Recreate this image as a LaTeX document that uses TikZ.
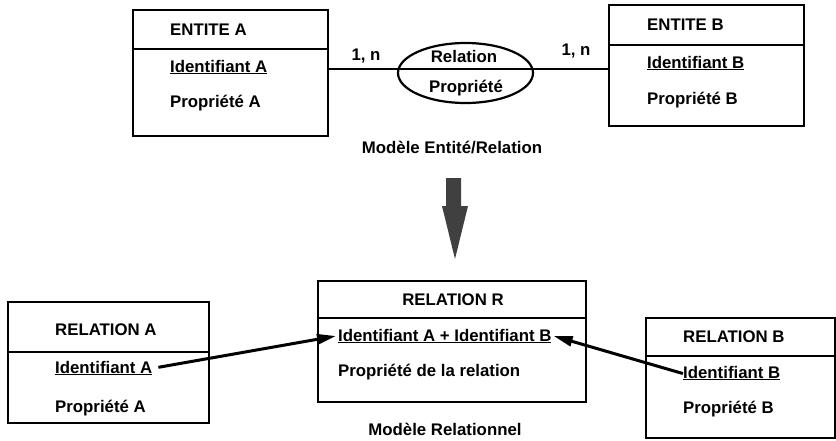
\documentclass[tikz,border=0pt]{standalone}
\usepackage{fontspec}
\setmainfont{Liberation Sans}
\usetikzlibrary{arrows.meta,shapes.geometric}

\begin{document}
\begin{tikzpicture}[x=1pt,y=-1pt,
  every node/.style={font=\bfseries\fontsize{16.8}{20}\selectfont},
  box/.style={draw,line width=2.5pt,inner sep=0pt},
  txt/.style={anchor=base west,inner sep=2pt},
  lbl/.style={anchor=base,inner sep=2pt},
  link/.style={line width=2.5pt},
  ref/.style={line width=3pt,-{Triangle[length=19pt,width=10pt]}}]
  \useasboundingbox (0,0) rectangle (836,440);

  % entite/relation model
  \node[box,minimum width=195pt,minimum height=126pt] (ea) at (230.5,73) {};
  \node[box,minimum width=195pt,minimum height=121pt] (eb) at (706.5,65.5) {};
  \node[ellipse,draw,line width=2.2pt,minimum width=135pt,minimum height=60pt] (rel) at (465.5,73) {};
  \draw[link] (ea.west |- 0,49) -- (ea.east |- 0,49);
  \draw[link] (eb.west |- 0,45) -- (eb.east |- 0,45);
  \draw[link] (ea.east |- 0,69) -- (eb.west |- 0,69);

  \node[txt] (eat) at (168,35) {ENTITE A};
  \node[txt] (eaid) at (168,72) {\underline{Identifiant A}};
  \node[txt] (eap) at (168,107) {Propriété A};
  \node[txt] (ebt) at (645,30) {ENTITE B};
  \node[txt] (ebid) at (645,68) {\underline{Identifiant B}};
  \node[txt] (ebp) at (645,104) {Propriété B};
  \node[lbl] (rn) at (464,62) {Relation};
  \node[lbl] (rp) at (466,92) {Propriété};
  \node[lbl] (ca) at (366,60) {1, n};
  \node[lbl] (cb) at (576,55) {1, n};
  \node[lbl] (m1) at (452,153) {Modèle Entité/Relation};

  % big arrow
  \fill[black!75] (446,178) -- (461,178) -- (461,206) -- (468,206) -- (455,259)
    -- (442,206) -- (446,206) -- cycle;

  % relational model
  \node[box,minimum width=268pt,minimum height=121pt] (rr) at (452,341.5) {};
  \node[box,minimum width=201pt,minimum height=121pt] (ra) at (108.5,362.5) {};
  \node[box,minimum width=189pt,minimum height=120pt] (rb) at (740.5,378) {};
  \draw[link] (rr.west |- 0,318) -- (rr.east |- 0,318);
  \draw[link] (ra.west |- 0,352) -- (ra.east |- 0,352);
  \draw[link] (rb.west |- 0,356) -- (rb.east |- 0,356);

  \node[lbl] (rrt) at (453,305) {RELATION R};
  \node[txt] (rid) at (336,341) {\underline{Identifiant A + Identifiant B}};
  \node[txt] (rrp) at (336,376) {Propriété de la relation};
  \node[txt] (rat) at (53,335) {RELATION A};
  \node[txt] (ida) at (53,373) {\underline{Identifiant A}};
  \node[txt] (rap) at (53,412) {Propriété A};
  \node[txt] (rbt) at (681,342) {RELATION B};
  \node[txt] (idb) at (681,378) {\underline{Identifiant B}};
  \node[txt] (rbp) at (681,413) {Propriété B};
  \node[lbl] (m2) at (445,435) {Modèle Relationnel};

  % foreign keys
  \draw[ref,shorten <=4pt] (ida.east) -- (rid.west);
  \draw[ref,shorten <=-2pt] (idb.west) -- (rid.east);
\end{tikzpicture}
\end{document}
